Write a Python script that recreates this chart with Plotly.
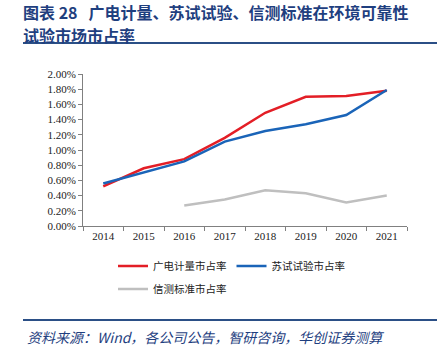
import plotly.graph_objects as go

years = ["2014", "2015", "2016", "2017", "2018", "2019", "2020", "2021"]
gdjl = [0.0052, 0.0076, 0.0088, 0.0116, 0.0149, 0.0170, 0.0171, 0.0178]
sssy = [0.0056, 0.0070, 0.0085, 0.0111, 0.0125, 0.0134, 0.0146, 0.0179]
xcbz = [None, None, 0.0027, 0.0035, 0.0047, 0.0043, 0.0031, 0.0040]
ytick_vals = [i * 0.002 for i in range(11)]
ytick_text = ["%.2f%%" % (v * 100) for v in ytick_vals]

W, H = 447, 354
L, R, T, B = 83, 407, 74, 226

def px(x):
    return (x - L) / (R - L)

def py(y):
    return (B - y) / (B - T)

fig = go.Figure()
fig.add_trace(go.Scatter(x=years, y=gdjl, mode="lines", name="广电计量市占率",
                         line=dict(color="#e31e26", width=2.5), legend="legend"))
fig.add_trace(go.Scatter(x=years, y=sssy, mode="lines", name="苏试试验市占率",
                         line=dict(color="#1a64b8", width=2.5), legend="legend"))
fig.add_trace(go.Scatter(x=years, y=xcbz, mode="lines", name="信测标准市占率",
                         line=dict(color="#bfbfbf", width=2.5), legend="legend2"))

axfont = dict(family="Liberation Serif", size=11, color="#222222")
legfont = dict(family="Noto Sans CJK SC", size=10.5, color="#222222")
fig.update_layout(
    width=W, height=H,
    margin=dict(l=L, r=W - R, t=T, b=H - B),
    paper_bgcolor="white", plot_bgcolor="white",
    xaxis=dict(type="category", range=[-0.5, 7.5], showline=True, linecolor="#808080",
               linewidth=1, ticks="outside", tickson="boundaries", ticklen=4,
               tickcolor="#808080", tickfont=axfont, showgrid=False, zeroline=False),
    yaxis=dict(range=[0, 0.02], tickvals=ytick_vals, ticktext=ytick_text,
               showline=True, linecolor="#808080", linewidth=1,
               ticks="outside", ticklen=4, tickcolor="#808080",
               tickfont=axfont, showgrid=False, zeroline=False),
    legend=dict(orientation="h", x=px(113), y=py(266), xanchor="left", yanchor="middle",
                font=legfont, itemwidth=30, tracegroupgap=0, bgcolor="rgba(0,0,0,0)"),
    legend2=dict(orientation="h", x=px(113), y=py(289), xanchor="left", yanchor="middle",
                 font=legfont, itemwidth=30, bgcolor="rgba(0,0,0,0)"),
    showlegend=True,
)

title_font = dict(family="Noto Sans CJK SC", size=16, color="#1f3f7f")
fig.add_annotation(text="<b>图表 28   广电计量、苏试试验、信测标准在环境可靠性</b>",
                   x=px(21), y=py(-2), xref="paper", yref="paper",
                   xanchor="left", yanchor="top", showarrow=False, font=title_font)
fig.add_annotation(text="<b>试验市场市占率</b>",
                   x=px(21), y=py(21), xref="paper", yref="paper",
                   xanchor="left", yanchor="top", showarrow=False, font=title_font)
fig.add_annotation(text="<i>资料来源：Wind，各公司公告，智研咨询，华创证券测算</i>",
                   x=px(25), y=py(337), xref="paper", yref="paper",
                   xanchor="left", yanchor="middle", showarrow=False,
                   font=dict(family="Noto Sans CJK SC", size=14, color="#1f3f7f"))

fig.add_shape(type="line", xref="paper", yref="paper", x0=px(23), x1=px(437),
              y0=py(43), y1=py(43), line=dict(color="#2b4f86", width=2))
fig.add_shape(type="line", xref="paper", yref="paper", x0=px(23), x1=px(437),
              y0=py(320), y1=py(320), line=dict(color="#2b4f86", width=2))

fig.write_html("out.html")
